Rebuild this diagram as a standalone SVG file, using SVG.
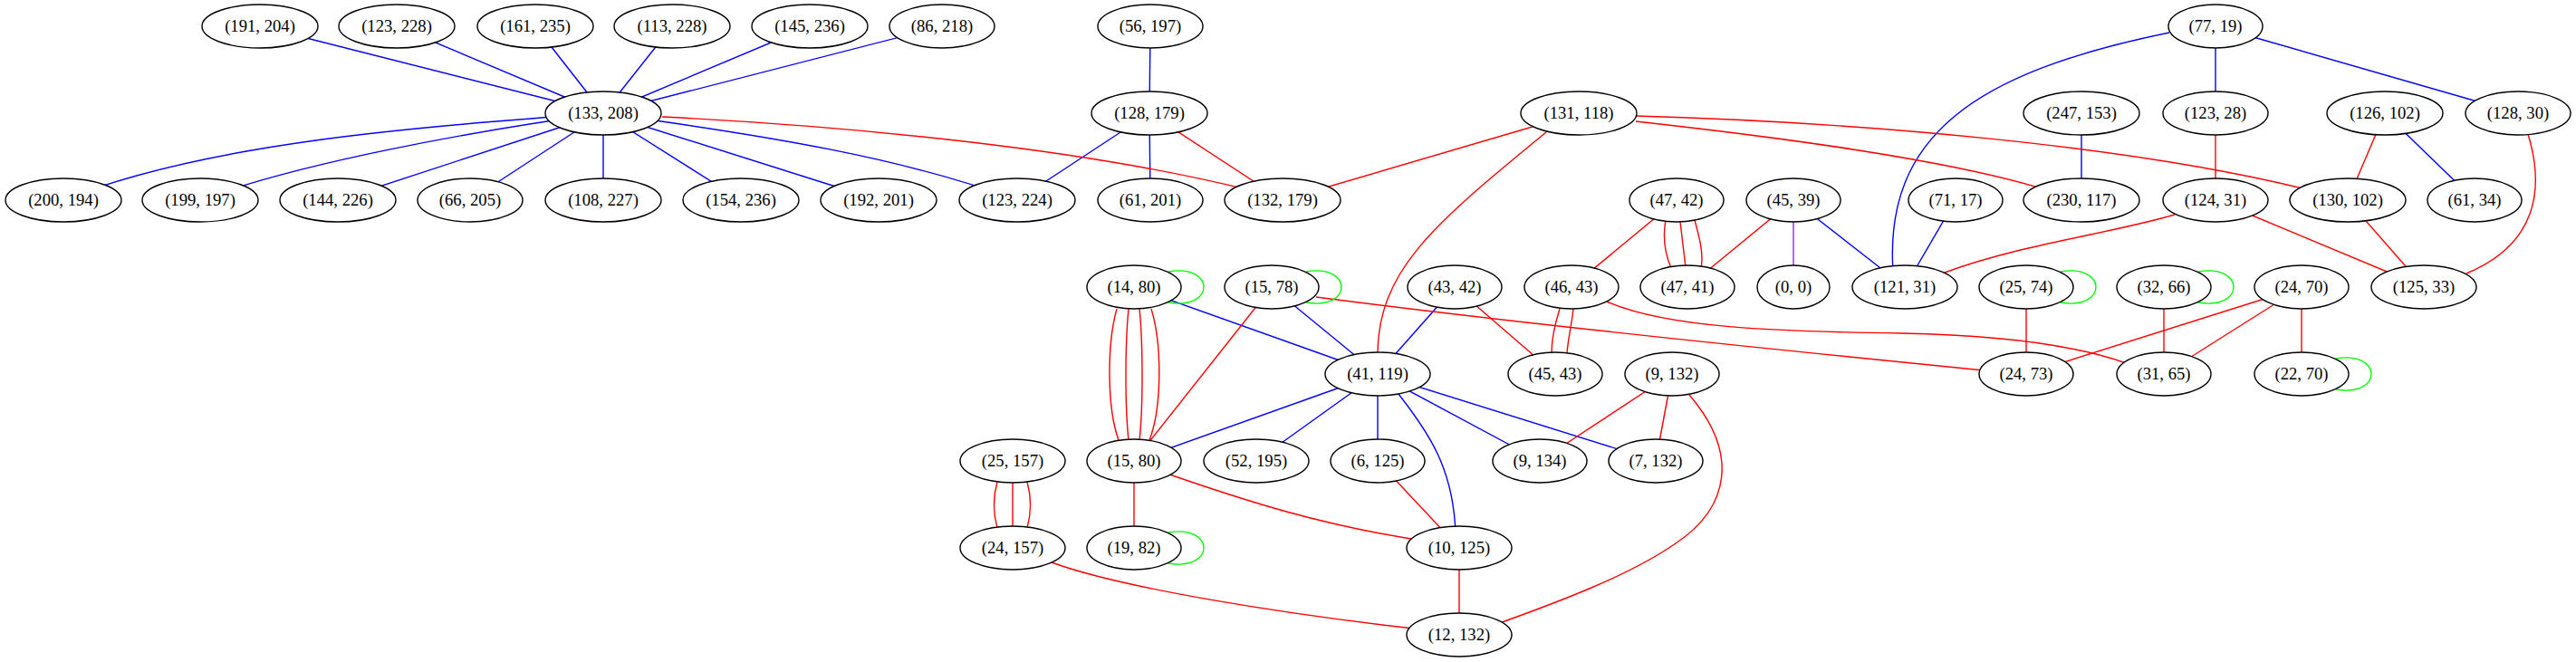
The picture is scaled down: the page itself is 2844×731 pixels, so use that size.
<svg xmlns="http://www.w3.org/2000/svg" width="2844" height="731" viewBox="0 0 2844 731">
<style>
.e{fill:none;stroke-width:1.4}
.b{stroke:#0000ff}
.r{stroke:#ff0000}
.g{stroke:#00ff00}
.p{stroke:#a020f0}
.n ellipse{fill:#ffffff;stroke:#000000;stroke-width:1.4}
.n text{font-family:"Liberation Serif","Times New Roman",serif;font-size:18.67px;text-anchor:middle;fill:#000000}
</style>
<rect width="2844" height="731" fill="#ffffff"/>
<g id="edges">
<g class="e b">
<line x1="287" y1="29" x2="666" y2="125"/>
<line x1="438" y1="29" x2="666" y2="125"/>
<line x1="591" y1="29" x2="666" y2="125"/>
<line x1="742" y1="29" x2="666" y2="125"/>
<line x1="894" y1="29" x2="666" y2="125"/>
<line x1="1040" y1="29" x2="666" y2="125"/>
<path d="M666,125 C450,140 220,160 70,221"/>
<path d="M666,125 C520,145 330,180 221,221"/>
<line x1="666" y1="125" x2="373" y2="221"/>
<line x1="666" y1="125" x2="519" y2="221"/>
<line x1="666" y1="125" x2="666" y2="221"/>
<line x1="666" y1="125" x2="818" y2="221"/>
<line x1="666" y1="125" x2="970" y2="221"/>
<path d="M666,125 C850,150 1000,175 1123,221"/>
<line x1="1270" y1="29" x2="1269" y2="125"/>
<line x1="1269" y1="125" x2="1123" y2="221"/>
<line x1="1269" y1="125" x2="1270" y2="221"/>
<line x1="1980" y1="221" x2="2103" y2="317"/>
<line x1="2159" y1="221" x2="2103" y2="317"/>
<path d="M2395,36 C2180,80 2080,150 2090,300"/>
<line x1="2446" y1="29" x2="2446" y2="125"/>
<line x1="2446" y1="29" x2="2780" y2="125"/>
<line x1="2298" y1="125" x2="2298" y2="221"/>
<line x1="2633" y1="125" x2="2732" y2="221"/>
<line x1="1252" y1="317" x2="1521" y2="413"/>
<line x1="1404" y1="317" x2="1521" y2="413"/>
<line x1="1606" y1="317" x2="1521" y2="413"/>
<line x1="1521" y1="413" x2="1252" y2="509"/>
<line x1="1521" y1="413" x2="1387" y2="509"/>
<line x1="1521" y1="413" x2="1521" y2="509"/>
<line x1="1521" y1="413" x2="1700" y2="509"/>
<line x1="1521" y1="413" x2="1828" y2="509"/>
<path d="M1540,430 C1580,480 1605,520 1607,590"/>
</g>
<g class="e p">
<line x1="1980" y1="221" x2="1980" y2="317"/>
</g>
<g class="e r">
<path d="M731,129 C950,140 1200,165 1380,210"/>
<line x1="1269" y1="125" x2="1416" y2="221"/>
<line x1="1743" y1="125" x2="1416" y2="221"/>
<path d="M1707,146 C1580,250 1520,300 1521,395"/>
<path d="M1806,134 C1950,150 2150,175 2260,210"/>
<path d="M1806,128 C2050,135 2350,160 2550,210"/>
<line x1="1851" y1="221" x2="1735" y2="317"/>
<path d="M1839,243 C1835,265 1839,282 1845,296"/>
<path d="M1855,245 L1861,295"/>
<path d="M1871,243 C1877,265 1881,282 1878,296"/>
<line x1="1980" y1="221" x2="1863" y2="317"/>
<line x1="2446" y1="125" x2="2446" y2="221"/>
<line x1="2633" y1="125" x2="2592" y2="221"/>
<path d="M2791,148 C2810,210 2800,270 2723,302"/>
<path d="M2401,237 C2330,258 2230,270 2147,301"/>
<line x1="2446" y1="221" x2="2676" y2="317"/>
<line x1="2592" y1="221" x2="2676" y2="317"/>
<path d="M1233,341 C1222,380 1222,450 1235,486"/>
<path d="M1246,341 C1242,380 1242,450 1246,486"/>
<path d="M1258,341 C1262,380 1262,450 1258,486"/>
<path d="M1271,341 C1283,380 1283,450 1269,486"/>
<line x1="1404" y1="317" x2="1252" y2="509"/>
<path d="M1453,328 C1700,360 2000,390 2190,409"/>
<line x1="1606" y1="317" x2="1717" y2="413"/>
<path d="M1722,341 C1716,360 1713,375 1713,390"/>
<path d="M1737,341 C1735,360 1731,375 1730,390"/>
<path d="M1774,333 C1840,362 1960,366 2100,368 C2200,370 2290,380 2350,402"/>
<line x1="1846" y1="413" x2="1700" y2="509"/>
<line x1="1846" y1="413" x2="1828" y2="509"/>
<path d="M1865,436 C1920,500 1910,560 1850,600 C1800,635 1720,665 1650,690"/>
<line x1="2237" y1="317" x2="2237" y2="413"/>
<line x1="2389" y1="317" x2="2389" y2="413"/>
<line x1="2541" y1="317" x2="2237" y2="413"/>
<line x1="2541" y1="317" x2="2389" y2="413"/>
<line x1="2541" y1="317" x2="2541" y2="413"/>
<path d="M1101,532 C1096,550 1096,565 1101,583"/>
<line x1="1118" y1="533" x2="1118" y2="581"/>
<path d="M1134,532 C1139,550 1139,565 1134,583"/>
<line x1="1252" y1="509" x2="1252" y2="605"/>
<path d="M1280,520 C1380,555 1460,580 1570,597"/>
<line x1="1521" y1="509" x2="1611" y2="605"/>
<line x1="1611" y1="605" x2="1611" y2="701"/>
<path d="M1161,621 C1240,650 1420,678 1560,694"/>
</g>
<g class="e g">
<path d="M1290,300 C1342,291 1342,343 1290,334"/>
<path d="M1442,300 C1494,291 1494,343 1442,334"/>
<path d="M1290,588 C1342,579 1342,631 1290,622"/>
<path d="M2275,300 C2327,291 2327,343 2275,334"/>
<path d="M2427,300 C2479,291 2479,343 2427,334"/>
<path d="M2579,396 C2631,387 2631,439 2579,430"/>
</g>
</g>
<g id="n1" class="n"><ellipse cx="287" cy="29" rx="64" ry="24"/><text x="287" y="34.5">(191, 204)</text></g>
<g id="n2" class="n"><ellipse cx="438" cy="29" rx="64" ry="24"/><text x="438" y="34.5">(123, 228)</text></g>
<g id="n3" class="n"><ellipse cx="591" cy="29" rx="64" ry="24"/><text x="591" y="34.5">(161, 235)</text></g>
<g id="n4" class="n"><ellipse cx="742" cy="29" rx="64" ry="24"/><text x="742" y="34.5">(113, 228)</text></g>
<g id="n5" class="n"><ellipse cx="894" cy="29" rx="64" ry="24"/><text x="894" y="34.5">(145, 236)</text></g>
<g id="n6" class="n"><ellipse cx="1040" cy="29" rx="58" ry="24"/><text x="1040" y="34.5">(86, 218)</text></g>
<g id="n7" class="n"><ellipse cx="1270" cy="29" rx="58" ry="24"/><text x="1270" y="34.5">(56, 197)</text></g>
<g id="n8" class="n"><ellipse cx="2446" cy="29" rx="52" ry="24"/><text x="2446" y="34.5">(77, 19)</text></g>
<g id="n9" class="n"><ellipse cx="666" cy="125" rx="64" ry="24"/><text x="666" y="130.5">(133, 208)</text></g>
<g id="n10" class="n"><ellipse cx="1269" cy="125" rx="64" ry="24"/><text x="1269" y="130.5">(128, 179)</text></g>
<g id="n11" class="n"><ellipse cx="1743" cy="125" rx="64" ry="24"/><text x="1743" y="130.5">(131, 118)</text></g>
<g id="n12" class="n"><ellipse cx="2298" cy="125" rx="64" ry="24"/><text x="2298" y="130.5">(247, 153)</text></g>
<g id="n13" class="n"><ellipse cx="2446" cy="125" rx="58" ry="24"/><text x="2446" y="130.5">(123, 28)</text></g>
<g id="n14" class="n"><ellipse cx="2633" cy="125" rx="64" ry="24"/><text x="2633" y="130.5">(126, 102)</text></g>
<g id="n15" class="n"><ellipse cx="2780" cy="125" rx="58" ry="24"/><text x="2780" y="130.5">(128, 30)</text></g>
<g id="n16" class="n"><ellipse cx="70" cy="221" rx="64" ry="24"/><text x="70" y="226.5">(200, 194)</text></g>
<g id="n17" class="n"><ellipse cx="221" cy="221" rx="64" ry="24"/><text x="221" y="226.5">(199, 197)</text></g>
<g id="n18" class="n"><ellipse cx="373" cy="221" rx="64" ry="24"/><text x="373" y="226.5">(144, 226)</text></g>
<g id="n19" class="n"><ellipse cx="519" cy="221" rx="58" ry="24"/><text x="519" y="226.5">(66, 205)</text></g>
<g id="n20" class="n"><ellipse cx="666" cy="221" rx="64" ry="24"/><text x="666" y="226.5">(108, 227)</text></g>
<g id="n21" class="n"><ellipse cx="818" cy="221" rx="64" ry="24"/><text x="818" y="226.5">(154, 236)</text></g>
<g id="n22" class="n"><ellipse cx="970" cy="221" rx="64" ry="24"/><text x="970" y="226.5">(192, 201)</text></g>
<g id="n23" class="n"><ellipse cx="1123" cy="221" rx="64" ry="24"/><text x="1123" y="226.5">(123, 224)</text></g>
<g id="n24" class="n"><ellipse cx="1270" cy="221" rx="58" ry="24"/><text x="1270" y="226.5">(61, 201)</text></g>
<g id="n25" class="n"><ellipse cx="1416" cy="221" rx="64" ry="24"/><text x="1416" y="226.5">(132, 179)</text></g>
<g id="n26" class="n"><ellipse cx="1851" cy="221" rx="52" ry="24"/><text x="1851" y="226.5">(47, 42)</text></g>
<g id="n27" class="n"><ellipse cx="1980" cy="221" rx="52" ry="24"/><text x="1980" y="226.5">(45, 39)</text></g>
<g id="n28" class="n"><ellipse cx="2159" cy="221" rx="52" ry="24"/><text x="2159" y="226.5">(71, 17)</text></g>
<g id="n29" class="n"><ellipse cx="2298" cy="221" rx="64" ry="24"/><text x="2298" y="226.5">(230, 117)</text></g>
<g id="n30" class="n"><ellipse cx="2446" cy="221" rx="58" ry="24"/><text x="2446" y="226.5">(124, 31)</text></g>
<g id="n31" class="n"><ellipse cx="2592" cy="221" rx="64" ry="24"/><text x="2592" y="226.5">(130, 102)</text></g>
<g id="n32" class="n"><ellipse cx="2732" cy="221" rx="52" ry="24"/><text x="2732" y="226.5">(61, 34)</text></g>
<g id="n33" class="n"><ellipse cx="1252" cy="317" rx="52" ry="24"/><text x="1252" y="322.5">(14, 80)</text></g>
<g id="n34" class="n"><ellipse cx="1404" cy="317" rx="52" ry="24"/><text x="1404" y="322.5">(15, 78)</text></g>
<g id="n35" class="n"><ellipse cx="1606" cy="317" rx="52" ry="24"/><text x="1606" y="322.5">(43, 42)</text></g>
<g id="n36" class="n"><ellipse cx="1735" cy="317" rx="52" ry="24"/><text x="1735" y="322.5">(46, 43)</text></g>
<g id="n37" class="n"><ellipse cx="1863" cy="317" rx="52" ry="24"/><text x="1863" y="322.5">(47, 41)</text></g>
<g id="n38" class="n"><ellipse cx="1980" cy="317" rx="40" ry="24"/><text x="1980" y="322.5">(0, 0)</text></g>
<g id="n39" class="n"><ellipse cx="2103" cy="317" rx="58" ry="24"/><text x="2103" y="322.5">(121, 31)</text></g>
<g id="n40" class="n"><ellipse cx="2237" cy="317" rx="52" ry="24"/><text x="2237" y="322.5">(25, 74)</text></g>
<g id="n41" class="n"><ellipse cx="2389" cy="317" rx="52" ry="24"/><text x="2389" y="322.5">(32, 66)</text></g>
<g id="n42" class="n"><ellipse cx="2541" cy="317" rx="52" ry="24"/><text x="2541" y="322.5">(24, 70)</text></g>
<g id="n43" class="n"><ellipse cx="2676" cy="317" rx="58" ry="24"/><text x="2676" y="322.5">(125, 33)</text></g>
<g id="n44" class="n"><ellipse cx="1521" cy="413" rx="58" ry="24"/><text x="1521" y="418.5">(41, 119)</text></g>
<g id="n45" class="n"><ellipse cx="1717" cy="413" rx="52" ry="24"/><text x="1717" y="418.5">(45, 43)</text></g>
<g id="n46" class="n"><ellipse cx="1846" cy="413" rx="52" ry="24"/><text x="1846" y="418.5">(9, 132)</text></g>
<g id="n47" class="n"><ellipse cx="2237" cy="413" rx="52" ry="24"/><text x="2237" y="418.5">(24, 73)</text></g>
<g id="n48" class="n"><ellipse cx="2389" cy="413" rx="52" ry="24"/><text x="2389" y="418.5">(31, 65)</text></g>
<g id="n49" class="n"><ellipse cx="2541" cy="413" rx="52" ry="24"/><text x="2541" y="418.5">(22, 70)</text></g>
<g id="n50" class="n"><ellipse cx="1118" cy="509" rx="58" ry="24"/><text x="1118" y="514.5">(25, 157)</text></g>
<g id="n51" class="n"><ellipse cx="1252" cy="509" rx="52" ry="24"/><text x="1252" y="514.5">(15, 80)</text></g>
<g id="n52" class="n"><ellipse cx="1387" cy="509" rx="58" ry="24"/><text x="1387" y="514.5">(52, 195)</text></g>
<g id="n53" class="n"><ellipse cx="1521" cy="509" rx="52" ry="24"/><text x="1521" y="514.5">(6, 125)</text></g>
<g id="n54" class="n"><ellipse cx="1700" cy="509" rx="52" ry="24"/><text x="1700" y="514.5">(9, 134)</text></g>
<g id="n55" class="n"><ellipse cx="1828" cy="509" rx="52" ry="24"/><text x="1828" y="514.5">(7, 132)</text></g>
<g id="n56" class="n"><ellipse cx="1118" cy="605" rx="58" ry="24"/><text x="1118" y="610.5">(24, 157)</text></g>
<g id="n57" class="n"><ellipse cx="1252" cy="605" rx="52" ry="24"/><text x="1252" y="610.5">(19, 82)</text></g>
<g id="n58" class="n"><ellipse cx="1611" cy="605" rx="58" ry="24"/><text x="1611" y="610.5">(10, 125)</text></g>
<g id="n59" class="n"><ellipse cx="1611" cy="701" rx="58" ry="24"/><text x="1611" y="706.5">(12, 132)</text></g>
</svg>
